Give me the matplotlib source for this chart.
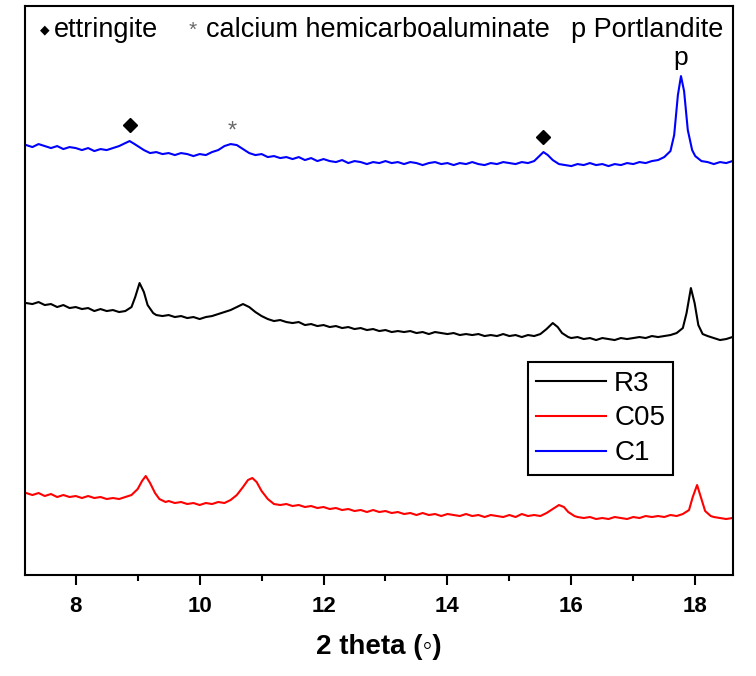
import matplotlib
matplotlib.use("Agg")
import matplotlib.pyplot as plt
from matplotlib.ticker import MultipleLocator

plt.rcParams['font.family'] = ['Liberation Sans', 'DejaVu Sans']

# XRD patterns, offset stacked (intensity in a.u.)
tt_c1 = [7.2, 7.3, 7.4, 7.5, 7.6, 7.7, 7.8, 7.9, 8.0, 8.1, 8.2, 8.3, 8.4, 8.5, 8.6, 8.7, 8.8, 8.87,
         8.95, 9.0, 9.1, 9.2, 9.3, 9.4, 9.5, 9.6, 9.7, 9.8, 9.9, 10.0, 10.1, 10.2, 10.3, 10.4, 10.5,
         10.6, 10.7, 10.8, 10.9, 11.0, 11.1, 11.2, 11.3, 11.4, 11.5, 11.6, 11.7, 11.8, 11.9, 12.0,
         12.1, 12.2, 12.3, 12.4, 12.5, 12.6, 12.7, 12.8, 12.9, 13.0, 13.1, 13.2, 13.3, 13.4, 13.5,
         13.6, 13.7, 13.8, 13.9, 14.0, 14.1, 14.2, 14.3, 14.4, 14.5, 14.6, 14.7, 14.8, 14.9, 15.0,
         15.1, 15.2, 15.3, 15.4, 15.5, 15.55, 15.62, 15.7, 15.8, 15.9, 16.0, 16.1, 16.2, 16.3, 16.4,
         16.5, 16.6, 16.7, 16.8, 16.9, 17.0, 17.1, 17.2, 17.3, 17.4, 17.5, 17.6, 17.66, 17.72, 17.77,
         17.82, 17.88, 17.95, 18.0, 18.1, 18.2, 18.3, 18.4, 18.5, 18.6]
int_c1 = [430, 428, 431, 429, 427, 429, 426, 428, 427, 425, 427, 424, 426, 425, 427, 429, 432, 434,
          431, 429, 425, 422, 423, 421, 422, 420, 422, 421, 419, 421, 420, 423, 425, 429, 431,
          430, 426, 422, 420, 421, 418, 419, 417, 418, 416, 418, 415, 417, 414, 416,
          414, 413, 415, 412, 414, 413, 411, 413, 412, 414, 412, 413, 411, 413, 412,
          410, 412, 413, 411, 412, 410, 412, 411, 413, 411, 410, 412, 411, 413, 412,
          411, 413, 412, 414, 420, 423, 420, 415, 411, 410, 409, 411, 410, 412, 410,
          411, 409, 411, 410, 412, 411, 413, 412, 414, 415, 418, 424, 440, 480, 499,
          484, 445, 425, 419, 414, 413, 411, 413, 412, 414]

tt_r3 = [7.2, 7.3, 7.4, 7.5, 7.6, 7.7, 7.8, 7.9, 8.0, 8.1, 8.2, 8.3, 8.4, 8.5, 8.6, 8.7, 8.8, 8.9,
         8.96, 9.03, 9.1, 9.16, 9.25, 9.3, 9.4, 9.5, 9.6, 9.7, 9.8, 9.9, 10.0, 10.1, 10.2, 10.3,
         10.4, 10.5, 10.6, 10.7, 10.8, 10.9, 11.0, 11.1, 11.2, 11.3, 11.4, 11.5, 11.6, 11.7, 11.8,
         11.9, 12.0, 12.1, 12.2, 12.3, 12.4, 12.5, 12.6, 12.7, 12.8, 12.9, 13.0, 13.1, 13.2, 13.3,
         13.4, 13.5, 13.6, 13.7, 13.8, 13.9, 14.0, 14.1, 14.2, 14.3, 14.4, 14.5, 14.6, 14.7, 14.8,
         14.9, 15.0, 15.1, 15.2, 15.3, 15.4, 15.5, 15.6, 15.7, 15.78, 15.85, 15.95, 16.0, 16.1, 16.2,
         16.3, 16.4, 16.5, 16.6, 16.7, 16.8, 16.9, 17.0, 17.1, 17.2, 17.3, 17.4, 17.5, 17.6, 17.7,
         17.8, 17.86, 17.93, 17.99, 18.05, 18.12, 18.2, 18.3, 18.4, 18.5, 18.6]
int_r3 = [272, 271, 273, 270, 271, 268, 270, 267, 268, 266, 267, 264, 266, 264, 265, 263, 264, 268,
          278, 292, 283, 270, 262, 260, 259, 260, 258, 259, 257, 258, 256, 258, 259, 261,
          263, 265, 268, 271, 268, 263, 259, 256, 254, 255, 253, 252, 253, 250, 251,
          249, 250, 248, 249, 247, 248, 246, 247, 245, 246, 244, 245, 243, 244, 243,
          244, 242, 243, 241, 243, 242, 241, 242, 240, 241, 240, 241, 239, 240, 239,
          241, 239, 240, 238, 240, 239, 241, 246, 252, 248, 242, 238, 237, 238, 236,
          237, 235, 237, 236, 235, 237, 236, 237, 238, 237, 239, 238, 239, 240, 242,
          247, 262, 287, 272, 250, 241, 239, 237, 235, 236, 238]

tt_c05 = [7.2, 7.3, 7.4, 7.5, 7.6, 7.7, 7.8, 7.9, 8.0, 8.1, 8.2, 8.3, 8.4, 8.5, 8.6, 8.7, 8.8, 8.9,
          9.0, 9.07, 9.13, 9.2, 9.28, 9.35, 9.45, 9.5, 9.6, 9.7, 9.8, 9.9, 10.0, 10.1, 10.2, 10.3,
          10.4, 10.5, 10.6, 10.7, 10.78, 10.85, 10.92, 11.0, 11.1, 11.2, 11.3, 11.4, 11.5, 11.6,
          11.7, 11.8, 11.9, 12.0, 12.1, 12.2, 12.3, 12.4, 12.5, 12.6, 12.7, 12.8, 12.9, 13.0, 13.1,
          13.2, 13.3, 13.4, 13.5, 13.6, 13.7, 13.8, 13.9, 14.0, 14.1, 14.2, 14.3, 14.4, 14.5, 14.6,
          14.7, 14.8, 14.9, 15.0, 15.1, 15.2, 15.3, 15.4, 15.5, 15.6, 15.7, 15.8, 15.88, 15.95,
          16.05, 16.1, 16.2, 16.3, 16.4, 16.5, 16.6, 16.7, 16.8, 16.9, 17.0, 17.1, 17.2, 17.3, 17.4,
          17.5, 17.6, 17.7, 17.8, 17.9, 17.96, 18.03, 18.1, 18.16, 18.25, 18.3, 18.4, 18.5, 18.6]
int_c05 = [82, 80, 82, 79, 81, 78, 80, 78, 79, 77, 79, 77, 78, 76, 77, 76, 78, 80,
           86, 94, 99, 92, 82, 76, 73, 74, 72, 73, 71, 72, 70, 72, 71, 73,
           72, 75, 80, 88, 95, 97, 93, 84, 76, 71, 70, 71, 69, 70,
           68, 69, 67, 68, 66, 67, 65, 66, 64, 65, 63, 65, 63, 64, 62,
           63, 61, 62, 60, 62, 60, 61, 59, 61, 60, 59, 61, 59, 60, 58,
           60, 59, 58, 60, 58, 61, 59, 60, 59, 62, 66, 70, 68, 63,
           59, 58, 57, 58, 56, 57, 56, 58, 57, 56, 58, 57, 59, 58, 59,
           58, 60, 59, 61, 65, 78, 90, 76, 64, 59, 58, 57, 56, 57]

# phase markers above the C1 pattern
ettringite_tt = [8.87, 15.55]
ettringite_y = [450, 438]
hemicarbo_tt = [10.53]
hemicarbo_y = [444]
portlandite_tt = [17.77]
portlandite_y = [517]

fig = plt.figure(figsize=(7.56, 6.76), dpi=100)
ax = fig.add_axes([0.033, 0.1494, 0.9366, 0.8416])

ax.plot(tt_r3, int_r3, color='black', lw=1.5, label='R3')
ax.plot(tt_c05, int_c05, color='red', lw=1.5, label='C05')
ax.plot(tt_c1, int_c1, color='blue', lw=1.5, label='C1')

ax.plot(ettringite_tt, ettringite_y, 'D', color='black', ms=7, ls='none')
for x, y in zip(hemicarbo_tt, hemicarbo_y):
    ax.text(x, y, '*', color='dimgray', fontsize=17, ha='center', va='center')
for x, y in zip(portlandite_tt, portlandite_y):
    ax.text(x, y, 'p', color='black', fontsize=19, ha='center', va='center')

# phase key along the top
ax.text(7.43, 545, '\u25c6', family='DejaVu Sans', fontsize=9, ha='left', va='center')
ax.text(7.64, 545, 'ettringite', fontsize=19.5, ha='left', va='center')
ax.text(9.89, 545, '*', color='dimgray', fontsize=15, ha='center', va='center')
ax.text(10.1, 545, 'calcium hemicarboaluminate', fontsize=19.5, ha='left', va='center')
ax.text(16.0, 545, 'p Portlandite', fontsize=19.5, ha='left', va='center')

ax.set_xlim(7.18, 18.61)
ax.set_ylim(0, 569)
ax.set_yticks([])
ax.xaxis.set_major_locator(MultipleLocator(2))
ax.xaxis.set_minor_locator(MultipleLocator(1))
ax.tick_params(axis='x', which='major', direction='out', length=7, width=1.5, labelsize=16, pad=8)
ax.tick_params(axis='x', which='minor', direction='out', length=4, width=1.5)
for lab in ax.get_xticklabels():
    lab.set_fontweight('bold')
for sp in ax.spines.values():
    sp.set_linewidth(1.5)

ax.set_xlabel('2 theta (\u25e6)', fontsize=20, fontweight='bold', labelpad=12)

leg = ax.legend(loc='upper left', bbox_to_anchor=(0.7105, 0.374), fontsize=20,
                frameon=True, fancybox=False, edgecolor='black', framealpha=1,
                handlelength=2.5, handletextpad=0.3, labelspacing=0.32, borderpad=0.3,
                borderaxespad=0)
leg.get_frame().set_linewidth(1.5)

fig.savefig('out.png', dpi=100)
